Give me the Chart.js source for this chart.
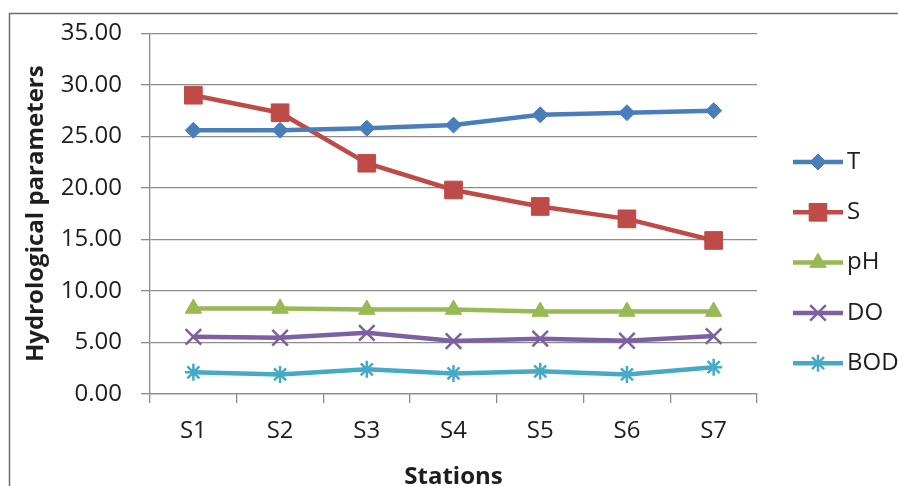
<!DOCTYPE html>
<html>
<head>
<meta charset="utf-8">
<script src="https://cdn.jsdelivr.net/npm/chart.js@4.4.1/dist/chart.umd.min.js"></script>
<style>
  html, body { margin: 0; padding: 0; background: #ffffff; }
  #wrap { width: 898px; height: 486px; position: relative; overflow: hidden; }
  canvas { display: block; }
</style>
</head>
<body>
<div id="wrap"><canvas id="chart" width="898" height="486"></canvas></div>
<script>
// Sampling stations along the estuary
const stations = ['S1', 'S2', 'S3', 'S4', 'S5', 'S6', 'S7'];

// Hydrological parameters per station
const temperature = [25.6, 25.6, 25.8, 26.1, 27.1, 27.3, 27.5];   // T
const salinity    = [29.0, 27.3, 22.4, 19.8, 18.2, 17.0, 14.9];   // S
const phValues    = [8.3, 8.3, 8.2, 8.2, 8.0, 8.0, 8.0];          // pH
const dissolvedO2 = [5.55, 5.46, 5.94, 5.14, 5.37, 5.17, 5.62];   // DO
const bodValues   = [2.1, 1.9, 2.4, 2.0, 2.2, 1.9, 2.6];          // BOD

// Value axis range and step
const yMin = 0;
const yMax = 35;
const yStep = 5;

const seriesNames = ['T', 'S', 'pH', 'DO', 'BOD'];

const FONT = "'Open Sans', 'Liberation Sans', sans-serif";
const GRID = '#8c8c8c';
const TEXT = '#1e1e1e';

Chart.defaults.font.family = FONT;
Chart.defaults.color = TEXT;

function series(label, data, color, style, radius, bw) {
  return {
    label: label,
    data: data,
    borderColor: color,
    backgroundColor: color,
    borderWidth: 4.5,
    tension: 0,
    pointStyle: style,
    pointRadius: radius,
    pointHoverRadius: radius,
    pointBackgroundColor: color,
    pointBorderColor: color,
    pointBorderWidth: bw,
    fill: false
  };
}

// Draws one legend marker, using Chart.js helpers when present
function drawMarker(ctx, style, radius, bw, x, y) {
  const h = Chart.helpers;
  if (h && typeof h.drawPoint === 'function') {
    h.drawPoint(ctx, { pointStyle: style, radius: radius, rotation: 0, borderWidth: bw }, x, y);
    return;
  }
  ctx.beginPath();
  const s = Math.SQRT1_2 * radius;
  if (style === 'rect') {
    ctx.rect(x - s, y - s, 2 * s, 2 * s);
  } else if (style === 'rectRot') {
    ctx.moveTo(x, y - radius); ctx.lineTo(x + radius, y);
    ctx.lineTo(x, y + radius); ctx.lineTo(x - radius, y); ctx.closePath();
  } else if (style === 'triangle') {
    ctx.moveTo(x, y - radius);
    ctx.lineTo(x + radius * 0.866, y + radius * 0.5);
    ctx.lineTo(x - radius * 0.866, y + radius * 0.5); ctx.closePath();
  } else {
    ctx.moveTo(x - s, y - s); ctx.lineTo(x + s, y + s);
    ctx.moveTo(x - s, y + s); ctx.lineTo(x + s, y - s);
    if (style === 'star') {
      ctx.moveTo(x, y - radius); ctx.lineTo(x, y + radius);
      ctx.moveTo(x - radius, y); ctx.lineTo(x + radius, y);
    }
  }
  ctx.fill();
  if (bw > 0) ctx.stroke();
}

// Frame around the figure and the right-hand legend
const framePlugin = {
  id: 'frameAndLegend',
  beforeDraw(chart) {
    const ctx = chart.ctx;
    ctx.save();
    ctx.strokeStyle = '#6e6e6e';
    ctx.lineWidth = 1.5;
    ctx.beginPath();
    ctx.moveTo(9.5, chart.height + 2);
    ctx.lineTo(9.5, 13.5);
    ctx.lineTo(chart.width + 2, 13.5);
    ctx.stroke();
    ctx.restore();
  },
  afterDraw(chart) {
    const ctx = chart.ctx;
    const lineX0 = 793, lineX1 = 843, textX = 847;
    const firstY = 162, gap = 50.3;
    ctx.save();
    chart.data.datasets.forEach((ds, i) => {
      const y = firstY + i * gap;
      ctx.strokeStyle = ds.borderColor;
      ctx.lineWidth = ds.borderWidth;
      ctx.beginPath();
      ctx.moveTo(lineX0, y);
      ctx.lineTo(lineX1, y);
      ctx.stroke();
      ctx.fillStyle = ds.pointBackgroundColor;
      ctx.strokeStyle = ds.pointBorderColor;
      ctx.lineWidth = ds.pointBorderWidth;
      drawMarker(ctx, ds.pointStyle, ds.pointRadius, ds.pointBorderWidth, (lineX0 + lineX1) / 2, y);
      ctx.fillStyle = TEXT;
      ctx.font = '24px ' + FONT;
      ctx.textAlign = 'left';
      ctx.textBaseline = 'middle';
      ctx.fillText(ds.label, textX, y);
    });
    ctx.restore();
  }
};

new Chart(document.getElementById('chart'), {
  type: 'line',
  data: {
    labels: stations,
    datasets: [
      series(seriesNames[0], temperature, '#4a7ebb', 'rectRot', 8, 1),
      series(seriesNames[1], salinity,    '#be4b48', 'rect', 12.5, 1),
      series(seriesNames[2], phValues,    '#98b954', 'triangle', 9.5, 1),
      series(seriesNames[3], dissolvedO2, '#7d60a0', 'crossRot', 11, 2.5),
      series(seriesNames[4], bodValues,   '#46aac5', 'star', 8.5, 2.5)
    ]
  },
  options: {
    responsive: false,
    animation: false,
    devicePixelRatio: 1,
    layout: { padding: { left: 0, right: 141, top: 33, bottom: 0 } },
    plugins: {
      legend: { display: false },
      tooltip: { enabled: false },
      title: { display: false }
    },
    scales: {
      x: {
        type: 'category',
        offset: true,
        grid: {
          offset: true,
          drawOnChartArea: false,
          drawTicks: true,
          tickLength: 9,
          color: GRID,
          lineWidth: 1.3
        },
        border: { display: true, color: GRID, width: 1.3 },
        ticks: { font: { size: 24 }, color: TEXT, padding: 14, maxRotation: 0 },
        title: {
          display: true,
          text: 'Stations',
          font: { size: 24, weight: 'bold', lineHeight: 0.75 },
          color: TEXT,
          padding: { top: 0, bottom: 0 }
        },
        afterFit(scale) { scale.height = 92; }
      },
      y: {
        min: yMin,
        max: yMax,
        grid: {
          drawOnChartArea: true,
          drawTicks: true,
          tickLength: 9,
          color: GRID,
          lineWidth: 1.3
        },
        border: { display: true, color: GRID, width: 1.3 },
        ticks: {
          stepSize: yStep,
          font: { size: 24 },
          color: TEXT,
          padding: 19,
          callback: (v) => Number(v).toFixed(2)
        },
        title: {
          display: true,
          text: 'Hydrological parameters',
          font: { size: 24, weight: 'bold', lineHeight: 1 },
          color: TEXT,
          padding: { top: 24, bottom: 0 }
        },
        afterFit(scale) { scale.width = 150; }
      }
    }
  },
  plugins: [framePlugin]
});
</script>
</body>
</html>
